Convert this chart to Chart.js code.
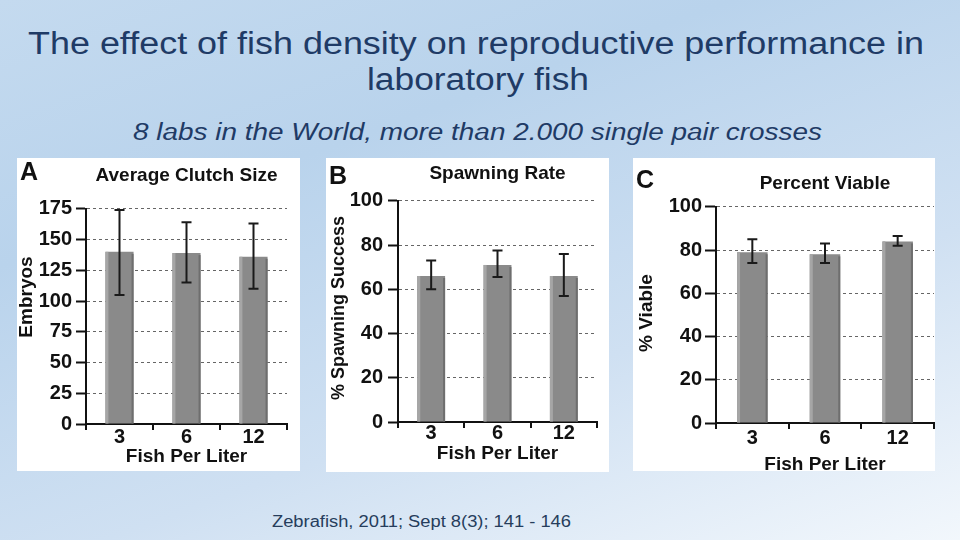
<!DOCTYPE html>
<html>
<head>
<meta charset="utf-8">
<script src="https://cdn.jsdelivr.net/npm/chart.js@4.4.0/dist/chart.umd.min.js"></script>
<style>
  html,body{margin:0;padding:0;}
  body{width:960px;height:540px;overflow:hidden;position:relative;
    background:linear-gradient(160deg,#c4daef 0%,#b9d3ec 30%,#cfe0f2 65%,#f2f7fc 100%);
    font-family:"Liberation Sans",Arial,sans-serif;}
  .t{position:absolute;white-space:nowrap;transform-origin:left top;}
  #title1,#title2{color:#1f3b66;font-size:31px;}
  #sub{color:#1f3b66;font-size:23px;font-style:italic;}
  #foot{color:#263d5c;font-size:16px;}
  .panel{position:absolute;background:#fff;}
  .panel canvas{position:absolute;left:0;top:0;}
  .letter{position:absolute;font-weight:bold;font-size:25px;color:#111;font-family:"Liberation Sans",Arial,sans-serif;}
</style>
</head>
<body>
<div class="t" id="title1">The effect of fish density on reproductive performance in</div>
<div class="t" id="title2">laboratory fish</div>
<div class="t" id="sub">8 labs in the World, more than 2.000 single pair crosses</div>
<div class="t" id="foot">Zebrafish, 2011; Sept 8(3); 141 - 146</div>

<div class="panel" id="pA" style="left:17px;top:158px;width:283px;height:313px;"><canvas id="cA"></canvas><div class="letter" style="left:3px;top:-1px;">A</div></div>
<div class="panel" id="pB" style="left:326px;top:158px;width:283px;height:314px;"><canvas id="cB"></canvas><div class="letter" style="left:3px;top:3px;">B</div></div>
<div class="panel" id="pC" style="left:633px;top:158px;width:302px;height:313px;"><canvas id="cC"></canvas><div class="letter" style="left:3px;top:7px;">C</div></div>

<script>
// ---- data ----
const categories = ["3", "6", "12"];
const clutchSize = [140, 139, 136];
const clutchLow  = [105, 115, 110];
const clutchHigh = [174, 164, 163];
const spawnRate  = [66, 71, 66];
const spawnLow   = [60, 65.5, 57];
const spawnHigh  = [73, 77.5, 76];
const viable     = [79, 78, 84];
const viableLow  = [74, 74, 82];
const viableHigh = [85, 83, 86.5];
const clutchTicks = [0, 25, 50, 75, 100, 125, 150, 175];
const percentTicks = [0, 20, 40, 60, 80, 100];

// ---- text fitting ----
function place(id, x, y, w){
  const el = document.getElementById(id);
  el.style.left = x + 'px'; el.style.top = y + 'px';
  const s = w / el.getBoundingClientRect().width;
  el.style.transform = 'scaleX(' + s + ')';
}
place('title1', 28, 26, 896);
place('title2', 367, 62, 222);
place('sub', 133, 119, 689);
place('foot', 272, 513, 299);

const FONT = '"Liberation Sans", Arial, sans-serif';

const errorBars = {
  id: 'errorBars',
  afterDatasetsDraw(chart, args, opts) {
    const ctx = chart.ctx, y = chart.scales.y, meta = chart.getDatasetMeta(0);
    ctx.save();
    // subtle 3D edges on bars
    meta.data.forEach(bar => {
      const w = bar.width, top = bar.y, base = bar.base;
      ctx.fillStyle = '#a6a6a6';
      ctx.fillRect(bar.x - w / 2, top, 3, base - top);
      ctx.fillStyle = '#6e6e6e';
      ctx.fillRect(bar.x + w / 2 - 2, top + 2, 2, base - top - 2);
    });
    ctx.strokeStyle = '#1a1a1a';
    ctx.lineWidth = 2;
    meta.data.forEach((bar, i) => {
      const x = bar.x;
      const yl = y.getPixelForValue(opts.low[i]);
      const yh = y.getPixelForValue(opts.high[i]);
      ctx.beginPath();
      ctx.moveTo(x, yl); ctx.lineTo(x, yh);
      ctx.moveTo(x - 5, yl); ctx.lineTo(x + 5, yl);
      ctx.moveTo(x - 5, yh); ctx.lineTo(x + 5, yh);
      ctx.stroke();
    });
    ctx.restore();
  }
};

const yTitle = {
  id: 'yTitle',
  afterDraw(chart, args, opts) {
    const ctx = chart.ctx;
    ctx.save();
    ctx.translate(opts.x, opts.y);
    ctx.rotate(-Math.PI / 2);
    ctx.fillStyle = '#111';
    ctx.font = 'bold ' + opts.size + 'px ' + FONT;
    ctx.textAlign = 'center';
    ctx.textBaseline = 'middle';
    ctx.fillText(opts.text, 0, 0);
    ctx.restore();
  }
};

function makeChart(canvasId, w, h, cfg) {
  const cv = document.getElementById(canvasId);
  cv.width = w; cv.height = h;
  cv.style.width = w + 'px'; cv.style.height = h + 'px';
  return new Chart(cv, {
    type: 'bar',
    data: { labels: categories, datasets: [{ data: cfg.values, backgroundColor: '#8a8a8a', borderWidth: 0,
      barPercentage: 0.84, categoryPercentage: 0.5 }] },
    options: {
      responsive: false, animation: false,
      layout: { padding: { left: 0, right: cfg.padRight, top: cfg.padTop, bottom: 0 } },
      plugins: {
        legend: { display: false }, tooltip: { enabled: false },
        title: { display: true, text: cfg.title, fullSize: false, color: '#111',
          font: { family: FONT, size: 19, weight: 'bold', lineHeight: 1.2 }, padding: { top: 0, bottom: cfg.titleGap } },
        errorBars: { low: cfg.low, high: cfg.high },
        yTitle: { text: cfg.yTitle, x: cfg.yTitleX, y: cfg.yTitleY, size: cfg.yTitleSize }
      },
      scales: {
        x: {
          grid: { display: true, drawOnChartArea: false, offset: true, tickLength: 6, tickColor: '#111', lineWidth: 2 },
          border: { display: true, color: '#111', width: 2 },
          ticks: { color: '#111', font: { family: FONT, size: 20, weight: 'bold', lineHeight: 1.2 }, padding: cfg.xTickPad, maxRotation: 0 },
          title: { display: true, text: 'Fish Per Liter', color: '#111', font: { family: FONT, size: 19, weight: 'bold', lineHeight: 1.2 }, padding: { top: 0, bottom: cfg.xTitlePad } },
          afterFit: s => { s.height = cfg.xHeight; }
        },
        y: {
          min: 0, max: cfg.max,
          afterBuildTicks: s => { s.ticks = cfg.ticks.map(v => ({ value: v })); },
          grid: { color: '#666', lineWidth: 1, tickColor: '#111', tickLength: cfg.yTickLen, tickWidth: 2, tickBorderDash: [] },
          border: { display: true, color: '#111', width: 2, dash: [3, 3] },
          ticks: { color: '#111', font: { family: FONT, size: 20, weight: 'bold' }, padding: cfg.yTickPad },
          title: { display: false },
          afterFit: s => { s.width = cfg.yWidth; }
        }
      }
    },
    plugins: [errorBars, yTitle]
  });
}

makeChart('cA', 283, 313, { values: clutchSize, low: clutchLow, high: clutchHigh, max: 175, ticks: clutchTicks,
  title: 'Average Clutch Size', yTitle: 'Embryos', yTitleX: 10, yTitleY: 139, yTitleSize: 19,
  padRight: 13, padTop: 6, titleGap: 22, xHeight: 47, yWidth: 69, yTickLen: 10, yTickPad: 4, xTickPad: -5, xTitlePad: 3 });
makeChart('cB', 283, 314, { values: spawnRate, low: spawnLow, high: spawnHigh, max: 100, ticks: percentTicks,
  title: 'Spawning Rate', yTitle: '% Spawning Success', yTitleX: 13, yTitleY: 150, yTitleSize: 18,
  padRight: 12, padTop: 4, titleGap: 16, xHeight: 50, yWidth: 72, yTickLen: 10, yTickPad: 5, xTickPad: -7, xTitlePad: 7 });
makeChart('cC', 302, 313, { values: viable, low: viableLow, high: viableHigh, max: 100, ticks: percentTicks,
  title: 'Percent Viable', yTitle: '% Viable', yTitleX: 14, yTitleY: 155, yTitleSize: 19,
  padRight: 1, padTop: 14, titleGap: 12, xHeight: 48, yWidth: 83, yTickLen: 11, yTickPad: 3, xTickPad: -3, xTitlePad: -5 });
</script>
</body>
</html>
